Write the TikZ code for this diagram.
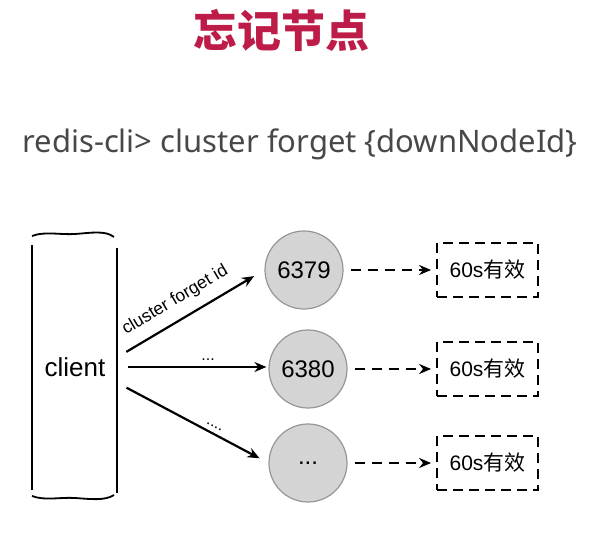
\documentclass[tikz,border=0pt]{standalone}
\usepackage{fontspec}
\setmainfont{Liberation Sans}
\newfontfamily\cjk{Noto Sans CJK SC}
\newfontfamily\cmdfont{Noto Sans}
\usetikzlibrary{arrows.meta}

\definecolor{titlered}{RGB}{190,28,72}
\definecolor{nodegray}{RGB}{212,212,212}
\definecolor{rimgray}{RGB}{150,150,150}
\definecolor{cmdgray}{RGB}{72,72,72}

\tikzset{
  redis/.style={circle, draw=rimgray, line width=1.2pt, fill=nodegray, minimum size=78pt, inner sep=0pt, font=\fontsize{24}{24}\selectfont},
  ttlbox/.style={draw, line width=1.8pt, dash pattern=on 10pt off 6pt, minimum width=101pt, minimum height=54pt, font=\fontsize{21}{21}\selectfont},
  cmd/.style={line width=2.2pt, -{Stealth[length=12pt,width=10pt]}},
  wait/.style={line width=2.2pt, dash pattern=on 10pt off 7pt, -{Stealth[length=12pt,width=10pt]}},
}

\begin{document}
\begin{tikzpicture}[x=1pt, y=1pt]
    \useasboundingbox (0,0) rectangle (589,533);

    % Title and command
    \node[font=\cjk\bfseries\fontsize{44}{44}\selectfont, text=titlered] (title) at (281,503) {忘记节点};
    \node[font=\cmdfont\fontsize{31}{31}\selectfont, text=cmdgray] (cmdline) at (300,389) {redis-cli> cluster forget \{downNodeId\}};

    % Client
    \node[minimum width=85pt, minimum height=250pt, font=\fontsize{26}{26}\selectfont] (client) at (75,166) {client};
    \draw[line width=1.8pt] (32,288) -- (32,43);
    \draw[line width=1.8pt] (117,285) -- (117,40);
    \draw[line width=1.8pt] (32,297) .. controls (45,302) and (60,298) .. (75,299) .. controls (90,300) and (105,303) .. (114,296);
    \draw[line width=1.8pt] (32,37) .. controls (45,32) and (60,36) .. (75,35) .. controls (90,34) and (105,32) .. (114,38);

    % Redis nodes
    \node[redis] (n1) at (304,263) {6379};
    \node[redis] (n2) at (308,164) {6380};
    \node[redis] (n3) at (308,70) {...};

    % Forget timers
    \node[ttlbox] (b1) at (487.5,263) {60s{\cjk 有效}};
    \node[ttlbox] (b2) at (487.5,164) {60s{\cjk 有效}};
    \node[ttlbox] (b3) at (487.5,70) {60s{\cjk 有效}};

    % Forget commands
    \draw[cmd, shorten <=10pt, shorten >=12pt] ([yshift=10pt]client.east) -- node[pos=0.46, sloped, above=7pt, font=\fontsize{17.5}{17.5}\selectfont] {cluster forget id} (n1.west);
    \draw[cmd, shorten <=10pt, shorten >=2pt] (client.east) -- node[pos=0.6, above=2pt, font=\fontsize{16}{16}\selectfont] {...} ([yshift=2pt]n2.west);
    \draw[cmd, shorten <=10pt, shorten >=10pt] ([yshift=-16pt]client.east) -- node[pos=0.62, sloped, above=1pt, font=\fontsize{16}{16}\selectfont] {....} (n3.west);

    % Dashed arrows to timers
    \draw[wait, shorten <=7pt, shorten >=5pt] (n1) -- (b1);
    \draw[wait, shorten <=7pt, shorten >=5pt] (n2) -- (b2);
    \draw[wait, shorten <=7pt, shorten >=5pt] (n3) -- (b3);
\end{tikzpicture}
\end{document}
